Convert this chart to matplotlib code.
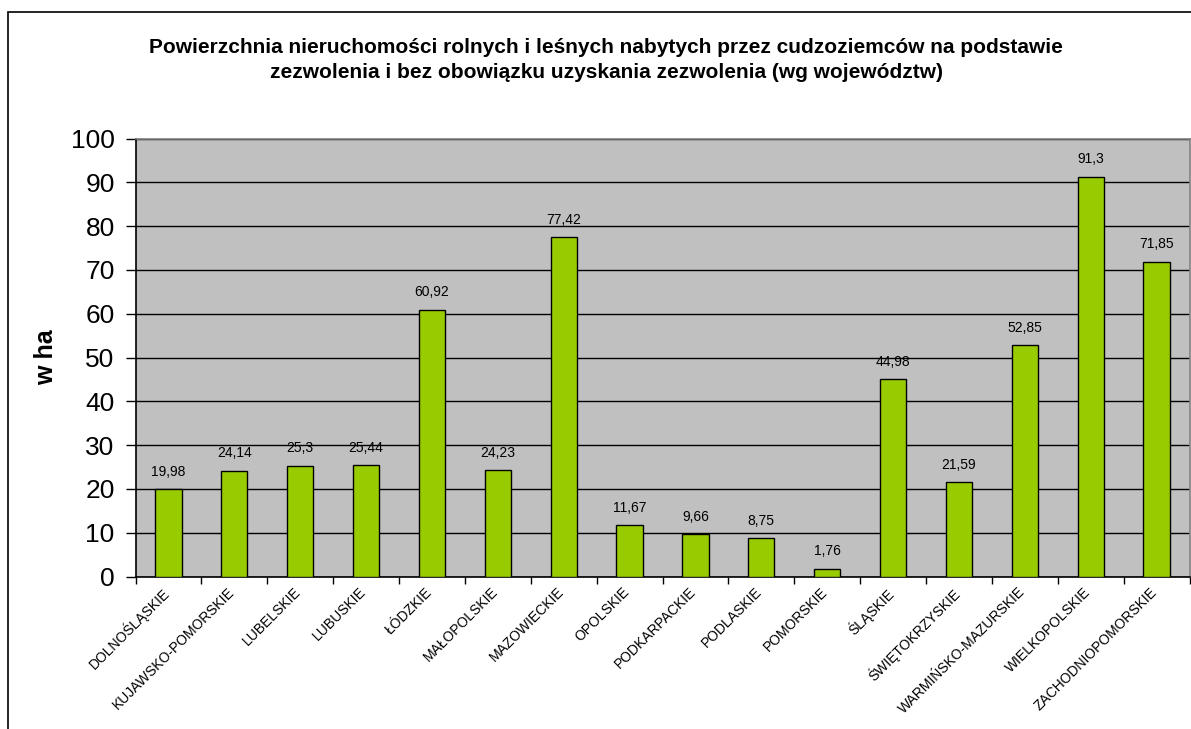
import matplotlib
matplotlib.use("Agg")
import matplotlib.pyplot as plt
from matplotlib.patches import Rectangle
import matplotlib.transforms as mtransforms
import numpy as np

categories = ["DOLNOŚLĄSKIE", "KUJAWSKO-POMORSKIE", "LUBELSKIE", "LUBUSKIE", "ŁÓDZKIE",
              "MAŁOPOLSKIE", "MAZOWIECKIE", "OPOLSKIE", "PODKARPACKIE", "PODLASKIE",
              "POMORSKIE", "ŚLĄSKIE", "ŚWIĘTOKRZYSKIE", "WARMIŃSKO-MAZURSKIE",
              "WIELKOPOLSKIE", "ZACHODNIOPOMORSKIE"]
values = [19.98, 24.14, 25.3, 25.44, 60.92, 24.23, 77.42, 11.67, 9.66, 8.75,
          1.76, 44.98, 21.59, 52.85, 91.3, 71.85]
value_labels = ["19,98", "24,14", "25,3", "25,44", "60,92", "24,23", "77,42", "11,67",
                "9,66", "8,75", "1,76", "44,98", "21,59", "52,85", "91,3", "71,85"]
yticks = [0, 10, 20, 30, 40, 50, 60, 70, 80, 90, 100]
title = ("Powierzchnia nieruchomości rolnych i leśnych nabytych przez cudzoziemców na podstawie\n"
         "zezwolenia i bez obowiązku uzyskania zezwolenia (wg województw)")
ylabel = "w ha"

plt.rcParams['font.family'] = ['Liberation Sans', 'DejaVu Sans']

W, H = 1191, 729
fig = plt.figure(figsize=(W / 100, H / 100), dpi=100)
fig.patch.set_facecolor("white")

# outer chart frame
fig.patches.append(Rectangle((7.5 / W, -0.2), 1.2, 1 - 11.5 / H + 0.2,
                             transform=fig.transFigure, fill=False,
                             edgecolor="black", linewidth=1.2))

left, right, top, bottom = 135.5, 1189.5, 138.5, 576.5
ax = fig.add_axes([left / W, 1 - bottom / H, (right - left) / W, (bottom - top) / H])
ax.set_facecolor("#C0C0C0")

n = len(categories)
x = np.arange(n)
ax.bar(x, values, width=0.4, color="#99CC00", edgecolor="black", linewidth=1.0, zorder=3)
for xi, v, lab in zip(x, values, value_labels):
    ax.annotate(lab, (xi, v), xytext=(0, 7.5), textcoords="offset points",
                ha="center", va="bottom", fontsize=10, zorder=4)

ax.set_xlim(-0.5, n - 0.5)
ax.set_ylim(0, 100)
ax.set_yticks(yticks)
ax.set_yticklabels([str(t) for t in yticks], fontsize=19)
ax.yaxis.grid(True, color="black", linewidth=1.0, zorder=1)
ax.set_axisbelow(True)
ax.tick_params(axis="y", length=7, width=1.0, pad=8, direction="out")

ax.set_xticks(x)
ax.set_xticklabels(categories, rotation=45, ha="right", va="top", rotation_mode="anchor",
                   fontsize=10)
ax.tick_params(axis="x", which="major", length=0, pad=6)
ax.set_xticks(np.arange(n + 1) - 0.5, minor=True)
ax.tick_params(axis="x", which="minor", length=5, width=1.0, direction="out")
shift = mtransforms.ScaledTranslation(-0.07, 0, fig.dpi_scale_trans)
for lbl in ax.get_xticklabels():
    lbl.set_transform(lbl.get_transform() + shift)

for s in ["top", "right"]:
    ax.spines[s].set_color("#808080")
    ax.spines[s].set_linewidth(1.2)
ax.spines["left"].set_color("black")
ax.spines["bottom"].set_color("black")
ax.spines["left"].set_linewidth(1.2)
ax.spines["bottom"].set_linewidth(1.2)

ax.set_ylabel(ylabel, fontsize=18, fontweight="bold", labelpad=9)

fig.text(606 / W, 1 - 60 / H, title, ha="center", va="center", fontsize=15,
         fontweight="bold", linespacing=1.45)

fig.savefig("out.png", dpi=100, facecolor="white")
